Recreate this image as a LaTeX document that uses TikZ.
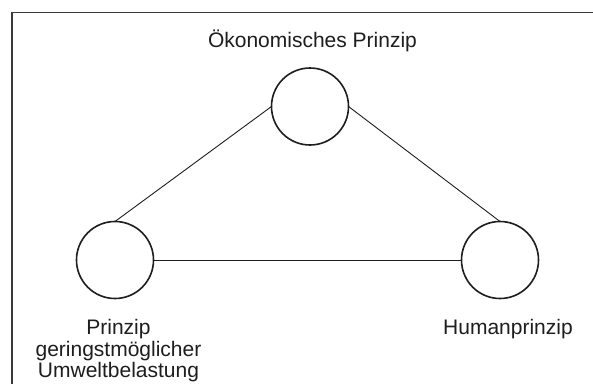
\documentclass[tikz,border=0pt]{standalone}
\usepackage{fontspec}
\setmainfont{Liberation Sans}
\definecolor{ink}{HTML}{1E1E1E}
\definecolor{framec}{HTML}{3A3A3A}
\begin{document}
\begin{tikzpicture}[x=1pt,y=-1pt,
  circ/.style={circle,draw=ink,line width=1.6pt,minimum size=77pt,inner sep=0pt,outer sep=0pt},
  conn/.style={draw=ink,line width=0.9pt},
  lbl/.style={text=ink,font=\fontsize{21}{21.7}\selectfont,inner sep=0pt,align=center}]
\useasboundingbox (0,0) rectangle (593,383);
\fill[white] (0,0) rectangle (593,383);
\draw[framec,line width=1.3pt] (12,390) -- (12,12.5) -- (600,12.5);
\node[circ] (T) at (310,106.5) {};
\node[circ] (L) at (115,260) {};
\node[circ] (R) at (500,260) {};
\draw[conn] (L.north) -- (T.west);
\draw[conn] (R.north) -- (T.east);
\draw[conn] (L.east) -- (R.west);
\node[lbl,anchor=base] (tT) at (312.5,47) {Ökonomisches Prinzip};
\node[lbl,anchor=north] (tL) at (118.5,319) {Prinzip\\geringstmöglicher\\Umweltbelastung};
\node[lbl,anchor=base] (tR) at (508,334) {Humanprinzip};
\end{tikzpicture}
\end{document}
